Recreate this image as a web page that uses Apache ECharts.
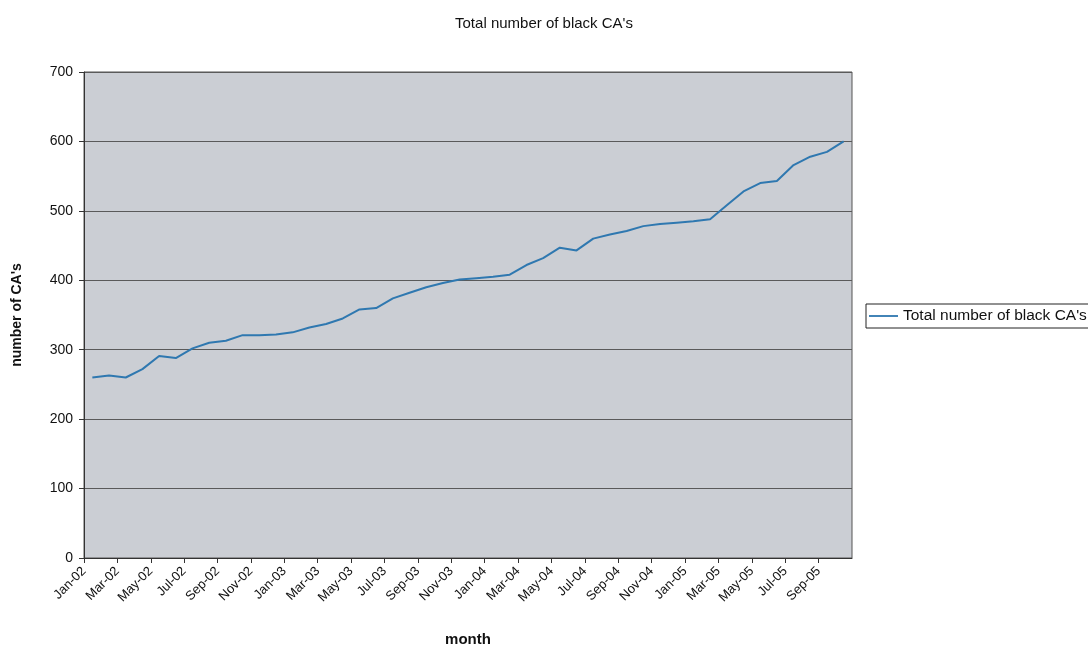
<!DOCTYPE html>
<html>
<head>
<meta charset="utf-8">
<title>Total number of black CA's</title>
<script src="https://cdn.jsdelivr.net/npm/echarts@6/dist/echarts.min.js"></script>
<style>
  html, body { margin: 0; padding: 0; background: #fff; }
  #chart { width: 1088px; height: 646px; }
</style>
</head>
<body>
<div id="chart"></div>
<script>
// one category per month, Jan-02 .. Oct-05
const months = [
  'Jan-02','Feb-02','Mar-02','Apr-02','May-02','Jun-02','Jul-02','Aug-02','Sep-02','Oct-02','Nov-02','Dec-02',
  'Jan-03','Feb-03','Mar-03','Apr-03','May-03','Jun-03','Jul-03','Aug-03','Sep-03','Oct-03','Nov-03','Dec-03',
  'Jan-04','Feb-04','Mar-04','Apr-04','May-04','Jun-04','Jul-04','Aug-04','Sep-04','Oct-04','Nov-04','Dec-04',
  'Jan-05','Feb-05','Mar-05','Apr-05','May-05','Jun-05','Jul-05','Aug-05','Sep-05','Oct-05'
];

const totalBlackCAs = [
  260, 263, 260, 272, 291, 288, 302, 310, 313, 321, 321, 322,
  325, 332, 337, 345, 358, 360, 374, 382, 390, 396, 401, 403,
  405, 408, 422, 432, 447, 443, 460, 466, 471, 478, 481, 483,
  485, 488, 508, 528, 540, 543, 566, 578, 585, 600
];

const yTicks = [0, 100, 200, 300, 400, 500, 600, 700];

const seriesName = "Total number of black CA's";
const font = '"Liberation Sans", Arial, sans-serif';

const chart = echarts.init(document.getElementById('chart'));

// each month sits in the middle of its slot, like Excel's "between tick marks"
const points = totalBlackCAs.map((v, i) => [i + 0.5, v]);

chart.setOption({
  animation: false,
  textStyle: { fontFamily: font },
  title: {
    text: "Total number of black CA's",
    left: 'center',
    top: 11,
    textStyle: { fontFamily: font, fontSize: 15, fontWeight: 'normal', color: '#111' }
  },
  legend: {
    data: [{ name: seriesName, icon: 'path://M0,0 L32,0 L32,2 L0,2 Z' }],
    left: 866,
    top: 304,
    itemWidth: 29,
    itemHeight: 2,
    itemGap: 4,
    padding: [4, 8, 4, 3],
    borderColor: '#222',
    borderWidth: 1,
    textStyle: { fontFamily: font, fontSize: 15.5, color: '#111' }
  },
  grid: {
    left: 84,
    right: 236,
    top: 72,
    bottom: 88,
    containLabel: false,
    outerBoundsMode: 'none',
    show: true,
    backgroundColor: '#cbced4',
    borderColor: '#555',
    borderWidth: 1
  },
  xAxis: {
    type: 'value',
    min: 0,
    max: months.length,
    interval: 2,
    name: 'month',
    nameLocation: 'middle',
    nameGap: 74,
    nameTextStyle: { fontFamily: font, fontSize: 15, fontWeight: 'bold', color: '#111' },
    axisLine: { show: true, lineStyle: { color: '#333', width: 1 } },
    axisTick: { show: true, inside: false, length: 5, lineStyle: { color: '#333' } },
    splitLine: { show: false },
    axisLabel: {
      rotate: 45,
      margin: 11,
      fontSize: 13,
      color: '#111',
      fontFamily: font,
      showMaxLabel: false,
      formatter: v => (v < months.length ? months[v] : '')
    }
  },
  yAxis: {
    type: 'value',
    min: yTicks[0],
    max: yTicks[yTicks.length - 1],
    interval: 100,
    name: "number of CA's",
    nameLocation: 'middle',
    nameRotate: 90,
    nameGap: 60,
    nameTextStyle: { fontFamily: font, fontSize: 14, fontWeight: 'bold', color: '#111' },
    axisLine: { show: true, lineStyle: { color: '#333', width: 1 } },
    axisTick: { show: true, inside: false, length: 5, lineStyle: { color: '#333' } },
    splitLine: { show: true, lineStyle: { color: '#5a5a5a', width: 1 } },
    axisLabel: { fontSize: 14, color: '#111', fontFamily: font, margin: 11 }
  },
  series: [{
    name: seriesName,
    type: 'line',
    data: points,
    showSymbol: false,
    symbol: 'none',
    color: '#2f78b0',
    lineStyle: { color: '#2f78b0', width: 2 }
  }]
});
</script>
</body>
</html>
